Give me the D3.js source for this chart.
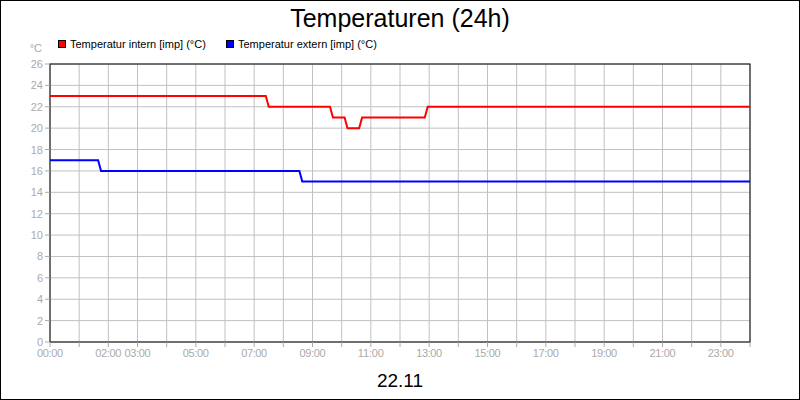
<!DOCTYPE html><html><head><meta charset="utf-8"><script src="https://cdn.jsdelivr.net/npm/d3@7"></script>
<style>body{margin:0}svg{font-family:"Liberation Sans",Arial,sans-serif}</style></head><body><svg width="800" height="400"></svg><script>
const intern=[[0,23],[7.4,23],[7.5,22],[9.6,22],[9.7,21],[10.1,21],[10.2,20],[10.6,20],[10.7,21],[12.85,21],[12.95,22],[24,22]];
const extern=[[0,17],[1.65,17],[1.75,16],[8.55,16],[8.65,15],[24,15]];
const xTickHours=[0,2,3,5,7,9,11,13,15,17,19,21,23];
const yTicks=d3.range(0,27,2);
const svg=d3.select("svg");
svg.append("rect").attr("x",0.5).attr("y",0.5).attr("width",799).attr("height",399).attr("fill","#fff").attr("stroke","#000");
const x=d3.scaleLinear().domain([0,24]).range([50,750]);
const y=d3.scaleLinear().domain([0,26]).range([342,64]);
const g=svg.append("g");
d3.range(0,25).forEach(h=>g.append("line").attr("x1",x(h)).attr("x2",x(h)).attr("y1",64).attr("y2",342).attr("stroke","#c0c0c0"));
yTicks.forEach(v=>g.append("line").attr("x1",50).attr("x2",750).attr("y1",y(v)).attr("y2",y(v)).attr("stroke","#c0c0c0"));
g.append("rect").attr("x",50).attr("y",64).attr("width",700).attr("height",278).attr("fill","none").attr("stroke","#000");
yTicks.forEach(v=>{g.append("line").attr("x1",45).attr("x2",50).attr("y1",y(v)).attr("y2",y(v)).attr("stroke","#aaa");
g.append("text").attr("x",43).attr("y",y(v)+4).attr("text-anchor","end").attr("font-size",11).attr("fill","#aaa").text(v);});
d3.range(0,25).forEach(h=>g.append("line").attr("x1",x(h)).attr("x2",x(h)).attr("y1",342).attr("y2",347).attr("stroke","#aaa"));
xTickHours.forEach(h=>g.append("text").attr("x",x(h)).attr("y",357).attr("text-anchor","middle").attr("font-size",11).attr("fill","#aaa").attr("textLength",26).text(String(h).padStart(2,"0")+":00"));
g.append("text").attr("x",42).attr("y",52).attr("text-anchor","end").attr("font-size",11).attr("fill","#aaa").text("°C");
const line=d3.line().x(d=>x(d[0])).y(d=>y(d[1]));
g.append("path").datum(intern).attr("d",line).attr("fill","none").attr("stroke","#f00").attr("stroke-width",2);
g.append("path").datum(extern).attr("d",line).attr("fill","none").attr("stroke","#00f").attr("stroke-width",2);
svg.append("text").attr("x",400).attr("y",27).attr("text-anchor","middle").attr("font-size",25).text("Temperaturen (24h)");
svg.append("text").attr("x",400).attr("y",387).attr("text-anchor","middle").attr("font-size",19).text("22.11");
[["Temperatur intern [imp] (°C)","#f00",58],["Temperatur extern [imp] (°C)","#00f",226]].forEach(([t,c,lx])=>{
svg.append("rect").attr("x",lx+0.5).attr("y",40.5).attr("width",7).attr("height",7).attr("fill",c).attr("stroke","#000");
svg.append("text").attr("x",lx+12).attr("y",48).attr("font-size",11).text(t);});
</script></body></html>
